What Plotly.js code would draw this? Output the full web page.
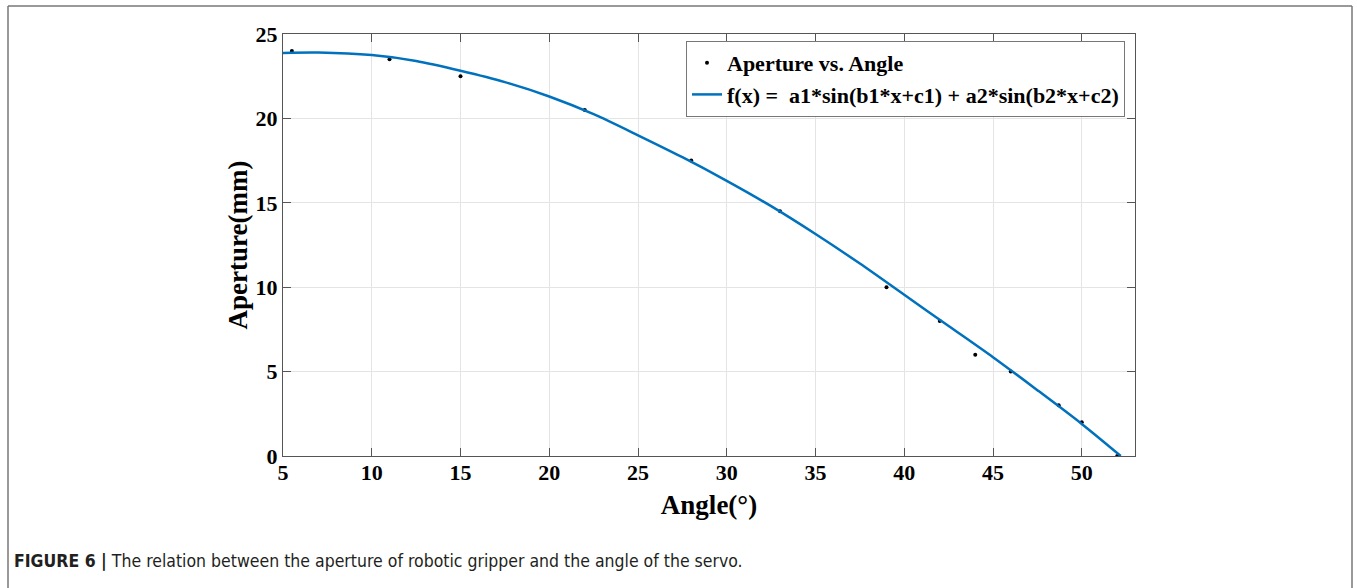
<!DOCTYPE html>
<html>
<head>
<meta charset="utf-8">
<script src="https://cdn.plot.ly/plotly-3.0.1.min.js"></script>
<style>
html,body{margin:0;padding:0;background:#fff;}
#chart{width:1357px;height:588px;}
</style>
</head>
<body>
<div id="chart"></div>
<script>
// Measured data points: aperture (mm) vs servo angle (deg)
var angleData = [5.5, 11, 15, 22, 28, 33, 39, 42, 44, 46, 48.7, 50, 52];
var apertureData = [24, 23.5, 22.5, 20.5, 17.5, 14.5, 10, 8, 6, 5, 3, 2, 0];

// Fitted curve
var fitAngle = [5, 7, 10, 12.5, 15, 17.5, 20, 22.5, 25, 27.5, 30, 32.5, 35, 37.5, 40, 42.5, 45, 47.5, 50, 52.2];
var fitAperture = [23.88, 23.9, 23.75, 23.4, 22.82, 22.15, 21.3, 20.25, 19.0, 17.7, 16.3, 14.8, 13.15, 11.4, 9.55, 7.7, 5.85, 3.9, 1.9, 0];

var xTicks = [5, 10, 15, 20, 25, 30, 35, 40, 45, 50];
var yTicks = [0, 5, 10, 15, 20, 25];

var seriesNames = ["Aperture vs. Angle", "f(x) =\u00a0\u00a0a1*sin(b1*x+c1) + a2*sin(b2*x+c2)"];
var xTitle = "Angle(°)";
var yTitle = "Aperture(mm)";
var caption = "<b>FIGURE 6 |</b> The relation between the aperture of robotic gripper and the angle of the servo.";

var serif = "'Liberation Serif', 'Times New Roman', serif";
var axisCol = "#555555";
var gridCol = "#e4e4e4";

var traces = [
  {
    x: angleData, y: apertureData, type: "scatter", mode: "markers",
    name: seriesNames[0],
    marker: {color: "#000000", size: 4}
  },
  {
    x: fitAngle, y: fitAperture, type: "scatter", mode: "lines",
    name: seriesNames[1],
    line: {color: "#0072BD", width: 2.5, shape: "spline", smoothing: 0.8}
  }
];

var L = 283, R = 1135, T = 34, B = 456, W = 1357, H = 588;
function px2x(p){ return (p - L) / (R - L); }
function px2y(p){ return (B - p) / (B - T); }

var tickFont = {family: serif, size: 22, color: "#000", weight: "bold"};

var layout = {
  width: W, height: H,
  margin: {l: L, r: W - R, t: T, b: H - B, pad: 0},
  paper_bgcolor: "#ffffff",
  plot_bgcolor: "#ffffff",
  showlegend: true,
  font: {family: serif, color: "#000000"},
  xaxis: {
    range: [5, 53], tickvals: xTicks, ticktext: xTicks.map(String),
    ticks: "inside", ticklen: 8, tickcolor: axisCol, tickwidth: 1,
    showline: true, linecolor: axisCol, linewidth: 1, mirror: "ticks",
    showgrid: true, gridcolor: gridCol, gridwidth: 1, zeroline: false,
    tickfont: tickFont,
    ticklabelstandoff: -3,
    title: {text: "<b>" + xTitle + "</b>", font: {family: serif, size: 27, color: "#000"}, standoff: 10},
    automargin: false
  },
  yaxis: {
    range: [0, 25], tickvals: yTicks, ticktext: yTicks.map(String),
    ticks: "inside", ticklen: 8, tickcolor: axisCol, tickwidth: 1,
    showline: true, linecolor: axisCol, linewidth: 1, mirror: "ticks",
    showgrid: true, gridcolor: gridCol, gridwidth: 1, zeroline: false,
    tickfont: tickFont,
    ticklabelstandoff: 0,
    title: {text: "<b>" + yTitle + "</b>", font: {family: serif, size: 27, color: "#000"}, standoff: 0},
    automargin: false
  },
  legend: {
    x: px2x(1125), y: px2y(41), xanchor: "right", yanchor: "top",
    bgcolor: "#ffffff", bordercolor: "#777777", borderwidth: 1,
    font: {family: serif, size: 22, color: "#000", weight: "bold"},
    tracegroupgap: 0, itemwidth: 30
  },
  shapes: [
    {type: "line", xref: "paper", yref: "paper", x0: px2x(8), x1: px2x(8), y0: px2y(6), y1: px2y(600), line: {color: "#777777", width: 1.5}},
    {type: "line", xref: "paper", yref: "paper", x0: px2x(8), x1: px2x(1352), y0: px2y(6), y1: px2y(6), line: {color: "#777777", width: 1.5}},
    {type: "line", xref: "paper", yref: "paper", x0: px2x(1352), x1: px2x(1352), y0: px2y(6), y1: px2y(600), line: {color: "#777777", width: 1.5}}
  ],
  annotations: [
    {
      text: caption, xref: "paper", yref: "paper",
      x: px2x(12), y: px2y(561), xanchor: "left", yanchor: "middle",
      showarrow: false,
      font: {family: "'Liberation Sans Narrow', 'DejaVu Sans Condensed', 'Roboto', sans-serif", size: 17.5, color: "#231f20"}
    }
  ]
};

Plotly.newPlot("chart", traces, layout, {displayModeBar: false, staticPlot: true});
</script>
</body>
</html>
